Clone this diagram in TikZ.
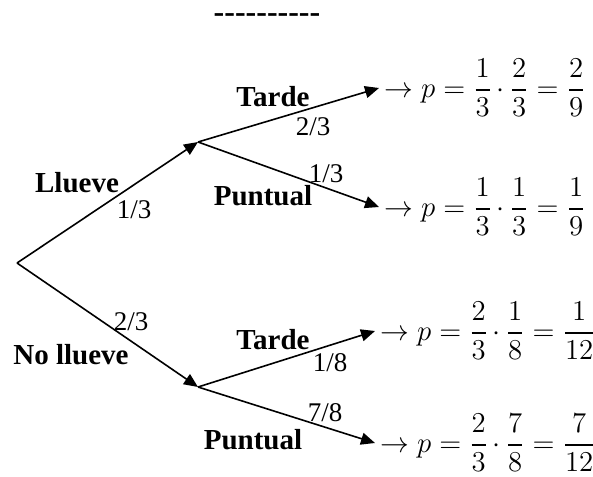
\documentclass[tikz,border=0pt]{standalone}
\usepackage{amsmath}
\usepackage[no-math]{fontspec}
\setmainfont{Liberation Serif}
\usepackage{tikz}
\usetikzlibrary{arrows.meta}
\medmuskip=3mu plus 2mu minus 3mu

\begin{document}
\begin{tikzpicture}[
  x=0.5pt, y=-0.5pt,
  arr/.style={-{Triangle[length=7pt, width=6pt]}, line width=0.8pt},
  lbl/.style={font=\fontsize{14.5}{16}\selectfont\bfseries, inner sep=0pt},
  prob/.style={font=\fontsize{13.5}{16}\selectfont, inner sep=0pt},
  res/.style={font=\fontsize{13.5}{16}\selectfont, anchor=west, inner xsep=2.5pt, inner ysep=0pt}
]
\useasboundingbox (0,0) rectangle (593,476);
\node[lbl, font=\fontsize{16}{18}\selectfont\bfseries] (sep) at (267,18) {\foreach \i in {1,...,9}{-\kern0pt}-};
% tree
\coordinate (root) at (17,263);
\coordinate (ll) at (198,142);
\coordinate (nl) at (198,387);
\node[res] (llt) at (379,88) {$\to p=\dfrac{1}{3}\cdot\dfrac{2}{3}=\dfrac{2}{9}$};
\node[res] (llp) at (379,207) {$\to p=\dfrac{1}{3}\cdot\dfrac{1}{3}=\dfrac{1}{9}$};
\node[res] (nlt) at (375,331) {$\to p=\dfrac{2}{3}\cdot\dfrac{1}{8}=\dfrac{1}{12}$};
\node[res] (nlp) at (375,443) {$\to p=\dfrac{2}{3}\cdot\dfrac{7}{8}=\dfrac{7}{12}$};
\draw[arr] (root) -- (ll);
\draw[arr] (root) -- (nl);
\draw[arr] (ll) -- (llt.west);
\draw[arr] (ll) -- (llp.west);
\draw[arr] (nl) -- (nlt.west);
\draw[arr] (nl) -- (nlp.west);
% labels
\node[lbl] (l1) at (77,183) {Llueve};
\node[prob] (p1) at (134,210) {1/3};
\node[prob] (p2) at (131,322) {2/3};
\node[lbl] (l2) at (71,355) {No llueve};
\node[lbl] (l3) at (273,97) {Tarde};
\node[prob] (p3) at (313,127) {2/3};
\node[prob] (p4) at (326,174) {1/3};
\node[lbl] (l4) at (263,196) {Puntual};
\node[lbl] (l5) at (273,340) {Tarde};
\node[prob] (p5) at (330,363) {1/8};
\node[prob] (p6) at (325,413) {7/8};
\node[lbl] (l6) at (253,440) {Puntual};
\end{tikzpicture}
\end{document}
